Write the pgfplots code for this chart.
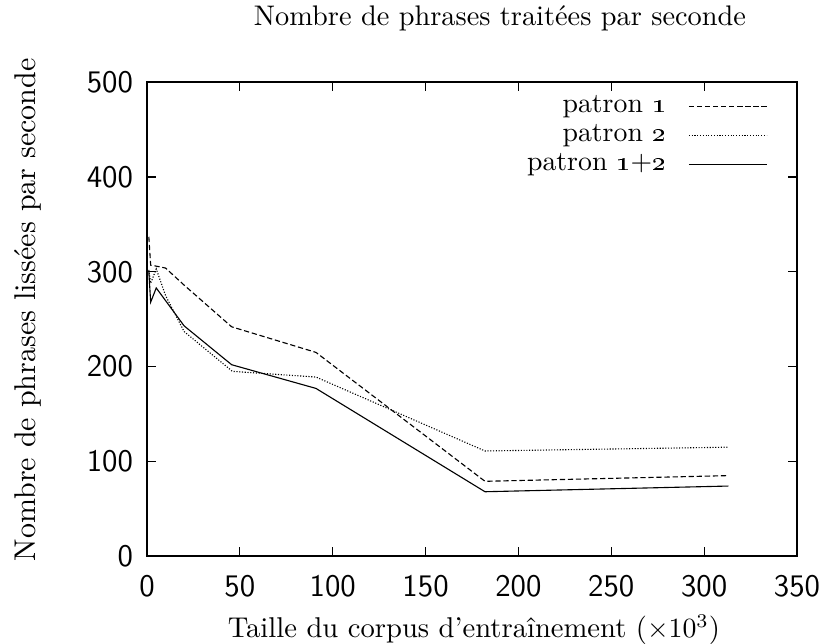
\documentclass[border=0pt]{standalone}
\usepackage{pgfplots}
\pgfplotsset{compat=1.18}

\begin{document}
\begin{tikzpicture}
\begin{axis}[
  scale only axis, width=234pt, height=170.6pt,
  xmin=0, xmax=350, ymin=0, ymax=500,
  xtick={0,50,...,350}, ytick={0,100,...,500},
  tick align=inside, major tick length=3.2pt,
  axis line style={line width=0.6pt},
  tick style={line width=0.4pt, black},
  /pgf/number format/assume math mode=true,
  ticklabel style={font=\sffamily\fontsize{11.3}{13}\selectfont},
  xticklabel style={anchor=center, yshift=-10.8pt},
  yticklabel style={anchor=east, xshift=-1.5pt},
  title={Nombre de phrases traitées par seconde},
  title style={font=\fontsize{10.2}{12}\selectfont, at={(axis description cs:0.543,1.099)}, anchor=center},
  xlabel={Taille du corpus d'entraînement ($\times10^3$)},
  xlabel style={font=\fontsize{10.3}{12}\selectfont, at={(axis description cs:0.503,-0.171)}, anchor=base},
  ylabel={Nombre de phrases lissées par seconde},
  ylabel style={font=\fontsize{10.8}{12}\selectfont, at={(axis description cs:-0.183,0.52)}, anchor=center},
  legend plot pos=right, legend cell align=right,
  legend style={draw=none, fill=none, at={(0.955,0.985)}, anchor=north east,
    font=\fontsize{10}{12}\selectfont, inner sep=0pt,
    row sep=-1.2pt, column sep=6pt},
  legend image code/.code={\draw[#1] (0pt,0pt) -- (28pt,0pt);},
]
\addplot[black, no marks, line width=0.4pt, dash pattern=on 1.9pt off 1pt] coordinates
 {(1,337) (2,307) (5,306) (10,304) (20,286) (45.6,242) (91,215) (182,79) (313,85)};
\addplot[black, no marks, line width=0.4pt, dash pattern=on 0.4pt off 0.6pt] coordinates
 {(1,302) (2,288) (5,303) (10,275) (20,237) (46,195) (91,189) (182,111) (313,115)};
\addplot[black, no marks, line width=0.4pt, solid] coordinates
 {(1,300) (2,268) (5,283) (20,243) (45.6,202) (91,177) (182,68) (313,74)};
\legend{patron \oldstylenums{1}, patron \oldstylenums{2}, patron \oldstylenums{1}+\oldstylenums{2}}
\end{axis}
\pgfresetboundingbox
\path (-52.9pt,-31.3pt) rectangle (245.5pt,200.2pt);
\end{tikzpicture}
\end{document}
